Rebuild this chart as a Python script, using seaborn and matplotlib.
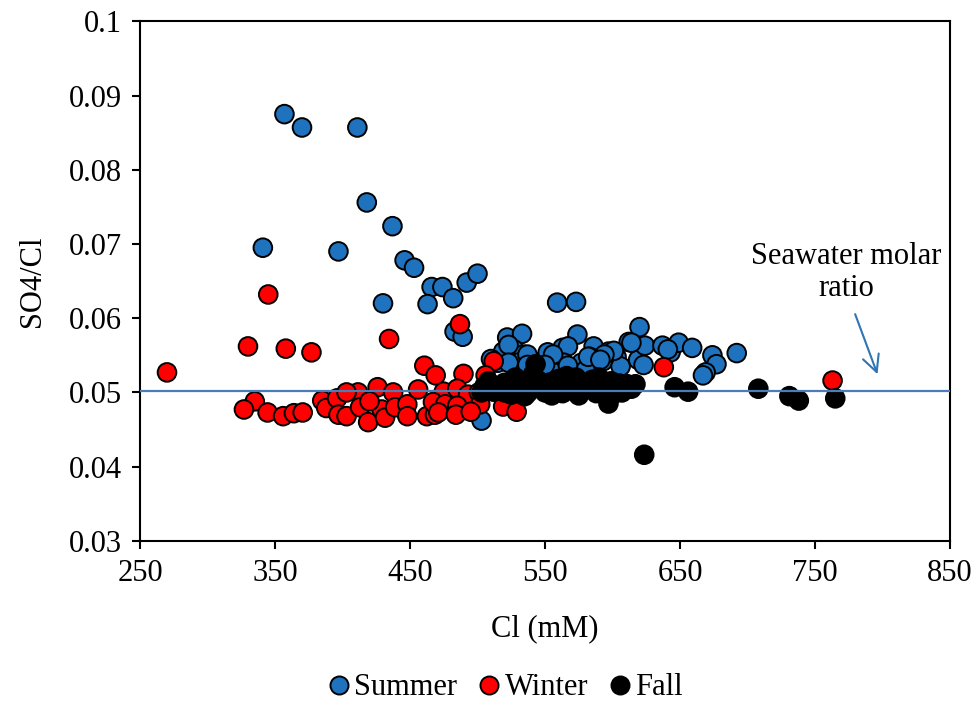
import matplotlib
matplotlib.use("Agg")
import matplotlib.pyplot as plt
from matplotlib.lines import Line2D
from matplotlib.ticker import FuncFormatter
import seaborn as sns
import pandas as pd

# ---- data ----
summer_cl = [357, 370, 411, 418, 437, 341, 397, 446, 453, 466, 474, 482, 463, 430,
             492, 500, 483, 489, 559, 573, 503,
             522, 533, 527, 521, 534, 541, 552, 558, 563, 565, 574, 567, 586, 583,
             597, 603, 612, 593, 577, 606, 619, 564, 620, 624, 614, 601, 594, 637,
             643, 649, 659, 674, 677, 669, 667, 692, 545, 555, 580, 530, 515, 519,
             510, 523, 537, 556, 550, 567, 537, 523, 582, 591, 641, 623]
summer_r = [0.0875, 0.0857, 0.0857, 0.0756, 0.0724, 0.0695, 0.0690, 0.0678, 0.0668,
            0.0642, 0.0642, 0.0627, 0.0619, 0.0620, 0.0648, 0.0660, 0.0582, 0.0575,
            0.0621, 0.0622, 0.0462,
            0.0574, 0.0579, 0.0558, 0.0548, 0.0551, 0.0542, 0.0554, 0.0548, 0.0560,
            0.0537, 0.0578, 0.0562, 0.0562, 0.0548, 0.0555, 0.0548, 0.0568, 0.0542,
            0.0540, 0.0535, 0.0544, 0.0540, 0.0588, 0.0563, 0.0567, 0.0556, 0.0551,
            0.0563, 0.0554, 0.0567, 0.0560, 0.0550, 0.0538, 0.0527, 0.0523, 0.0553,
            0.0530, 0.0528, 0.0530, 0.0540, 0.0540, 0.0555, 0.0545, 0.0564, 0.0551,
            0.0551, 0.0537, 0.0536, 0.0537, 0.0540, 0.0548, 0.0544, 0.0558, 0.0537]

winter_cl = [270, 330, 358, 377, 345, 434.5, 487, 460.6, 469, 512, 638, 763,
             335, 327, 344.5, 356, 364, 370.5, 385, 388, 396, 397, 403, 411.5, 413,
             419, 426, 429, 431.5, 437.5, 439, 448, 448, 456, 462.5, 468.5, 403, 420,
             489.6, 506, 475, 485, 493, 501, 467, 476, 485, 502, 471, 484, 495,
             519, 529, 525]
winter_r = [0.0527, 0.0562, 0.0559, 0.0554, 0.0632, 0.0572, 0.0592, 0.0536, 0.0523,
            0.0542, 0.0534, 0.0516,
            0.0488, 0.0477, 0.0473, 0.0468, 0.0472, 0.0473, 0.0489, 0.0479, 0.0492,
            0.0470, 0.0468, 0.0500, 0.0480, 0.0460, 0.0507, 0.0477, 0.0466, 0.0500,
            0.0480, 0.0484, 0.0468, 0.0504, 0.0468, 0.0470, 0.0500, 0.0488,
            0.0525, 0.0523, 0.0501, 0.0505, 0.0497, 0.0500, 0.0487, 0.0484, 0.0482,
            0.0484, 0.0473, 0.0470, 0.0474, 0.0481, 0.0474, 0.0515]

fall_cl = [503, 505, 508, 515, 520, 525, 530, 533, 537, 541, 543, 547, 550, 553, 557,
           560, 563, 566, 570, 573, 576, 579, 582, 585, 588, 591, 594, 597, 599, 602,
           605, 607, 611, 614, 617, 623.5, 646, 656, 708, 731, 738, 765, 512, 528,
           545, 566, 590, 535, 555, 575, 600, 520]
fall_r = [0.0500, 0.0508, 0.0515, 0.0508, 0.0500, 0.0497, 0.0505, 0.0512, 0.0499,
          0.0524, 0.0538, 0.0507, 0.0500, 0.0513, 0.0503, 0.0518, 0.0499, 0.0510,
          0.0505, 0.0520, 0.0500, 0.0512, 0.0506, 0.0517, 0.0499, 0.0510, 0.0503,
          0.0485, 0.0515, 0.0507, 0.0512, 0.0500, 0.0511, 0.0505, 0.0511, 0.0416,
          0.0507, 0.0501, 0.0505, 0.0495, 0.0489, 0.0492, 0.0501, 0.0520, 0.0516,
          0.0522, 0.0520, 0.0495, 0.0496, 0.0496, 0.0497, 0.0513]

seasons = ["Summer", "Winter", "Fall"]
seawater_ratio = 0.0502
x_ticks = [250, 350, 450, 550, 650, 750, 850]
y_ticks = [0.03, 0.04, 0.05, 0.06, 0.07, 0.08, 0.09, 0.1]

df = pd.concat([
    pd.DataFrame({"Cl": summer_cl, "ratio": summer_r, "season": "Summer"}),
    pd.DataFrame({"Cl": winter_cl, "ratio": winter_r, "season": "Winter"}),
    pd.DataFrame({"Cl": fall_cl, "ratio": fall_r, "season": "Fall"}),
], ignore_index=True)

palette = {"Summer": "#1f72bd", "Winter": "#ff0000", "Fall": "#000000"}

sns.set_style("ticks")
plt.rcParams["font.family"] = ["Liberation Serif", "DejaVu Serif"]
plt.rcParams["text.color"] = "black"
plt.rcParams["axes.labelcolor"] = "black"
FS = 22

fig = plt.figure(figsize=(9.79, 7.07), dpi=100)
ax = fig.add_axes([0.143, 0.235, 0.8274, 0.7348])

sns.scatterplot(data=df, x="Cl", y="ratio", hue="season", hue_order=seasons,
                palette=palette, s=180, edgecolor="black", linewidth=1.4,
                legend=False, ax=ax, zorder=3)

ax.axhline(seawater_ratio, color="#4a7ebb", lw=1.6, zorder=5)

ax.annotate("", xy=(797, 0.0521), xytext=(779, 0.0609),
            arrowprops=dict(arrowstyle="->", color="#2e75b6", lw=1.5,
                            mutation_scale=30), zorder=6)
ax.text(773, 0.0662, "Seawater molar\nratio", ha="center", va="center",
        fontsize=FS, linespacing=1.15, color="black")

ax.set_xlim(250, 850)
ax.set_ylim(0.03, 0.1)
ax.set_xticks(x_ticks)
ax.set_yticks(y_ticks)
ax.yaxis.set_major_formatter(FuncFormatter(lambda v, p: f"{v:g}"))
ax.tick_params(axis="both", direction="out", length=6, width=1.5,
               labelsize=FS, colors="black", pad=7)
for sp in ax.spines.values():
    sp.set_visible(True)
    sp.set_color("black")
    sp.set_linewidth(1.5)

ax.set_xlabel("Cl (mM)", fontsize=FS, labelpad=19, color="black")
ax.set_ylabel("SO4/Cl", fontsize=FS, labelpad=16, color="black")

handles = [Line2D([0], [0], marker="o", linestyle="none", markersize=13,
                  markerfacecolor=palette[s], markeredgecolor="black",
                  markeredgewidth=1.4) for s in seasons]
fig.legend(handles, seasons, loc="center", bbox_to_anchor=(0.515, 0.027),
           ncol=3, frameon=False, fontsize=FS, handletextpad=0.05,
           columnspacing=0.6, handlelength=0.9)

fig.savefig("out.png", dpi=100)
